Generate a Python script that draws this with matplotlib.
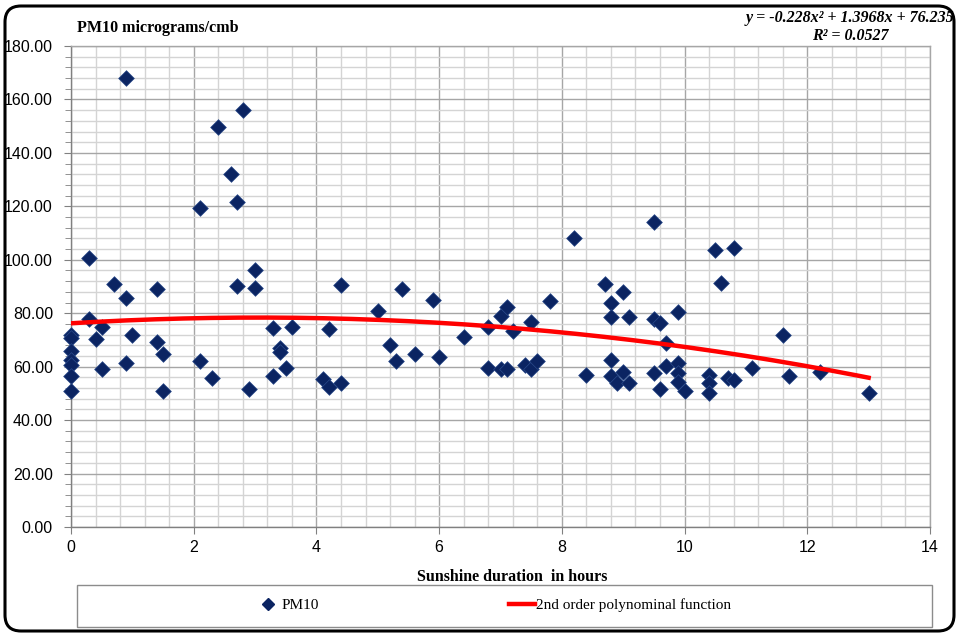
import numpy as np
import matplotlib
matplotlib.use("Agg")
import matplotlib.pyplot as plt
from matplotlib.patches import FancyBboxPatch, Rectangle
from matplotlib.lines import Line2D
from matplotlib.ticker import MultipleLocator, FormatStrFormatter

plt.rcParams['font.family'] = ['Liberation Serif', 'DejaVu Serif']

# Sonnenscheindauer (h) und PM10-Werte
sunshine = [0, 0, 0, 0, 0, 0, 0,
            0.3, 0.3, 0.4, 0.5, 0.5, 0.7, 0.9, 0.9, 0.9, 1.0, 1.4, 1.4, 1.5, 1.5,
            2.1, 2.1, 2.3, 2.4, 2.6, 2.7, 2.7, 2.8, 2.9, 3.0, 3.0,
            3.3, 3.3, 3.4, 3.4, 3.5, 3.6, 4.1, 4.2, 4.2, 4.4, 4.4,
            5.0, 5.2, 5.3, 5.4, 5.6, 5.9, 6.0, 6.4, 6.8, 6.8,
            7.0, 7.0, 7.1, 7.1, 7.2, 7.4, 7.5, 7.5, 7.6, 7.8,
            8.2, 8.4, 8.7, 8.8, 8.8, 8.8, 8.8, 8.9, 9.0, 9.0, 9.1, 9.1,
            9.5, 9.5, 9.5, 9.6, 9.6, 9.7, 9.7, 9.9, 9.9, 9.9, 9.9, 10.0,
            10.4, 10.4, 10.4, 10.5, 10.6, 10.7, 10.8, 10.8,
            11.1, 11.6, 11.7, 12.2, 13.0]
pm10 = [71.9, 70.6, 65.9, 62.5, 60.6, 56.5, 51.0,
        100.5, 77.7, 70.2, 74.7, 59.1, 91.0, 168.0, 85.8, 61.3, 72.0, 89.0, 69.4, 64.6, 51.0,
        119.5, 62.2, 55.6, 149.6, 132.0, 121.8, 90.3, 156.0, 51.6, 96.2, 89.3,
        74.4, 56.5, 67.1, 65.6, 59.6, 74.7, 55.4, 52.3, 74.0, 54.0, 90.5,
        81.0, 68.0, 62.0, 89.0, 64.6, 85.0, 63.5, 71.0, 75.0, 59.6,
        79.0, 59.0, 82.5, 59.0, 73.4, 60.6, 76.8, 59.0, 62.0, 84.6,
        108.0, 57.0, 91.0, 84.0, 78.5, 62.5, 56.5, 54.0, 87.8, 57.9, 78.5, 54.0,
        114.0, 78.0, 57.5, 76.5, 51.5, 69.0, 60.4, 80.3, 61.2, 57.5, 54.4, 51.0,
        57.0, 54.0, 50.3, 103.5, 91.2, 55.9, 104.3, 55.0,
        59.6, 72.0, 56.5, 57.9, 50.3]

# Trendlinie 2. Ordnung
koeff = [-0.228, 1.3968, 76.235]
r2 = 0.0527

fig = plt.figure(figsize=(9.58, 6.33), dpi=100)
ax = fig.add_axes([71/958, 1-527/633, 859/958, 481/633])

ax.set_xlim(0, 14)
ax.set_ylim(0, 180)
ax.xaxis.set_major_locator(MultipleLocator(2))
ax.xaxis.set_minor_locator(MultipleLocator(0.4))
ax.yaxis.set_major_locator(MultipleLocator(20))
ax.yaxis.set_minor_locator(MultipleLocator(4))
ax.yaxis.set_major_formatter(FormatStrFormatter('%.2f'))

ax.grid(which='major', color='#a6a6a6', linewidth=1.0)
ax.grid(which='minor', color='#d4d4d4', linewidth=1.0)
ax.set_axisbelow(True)
for s in ax.spines.values():
    s.set_color('#a6a6a6')
    s.set_linewidth(1.0)
ax.spines['left'].set_color('#808080')
ax.spines['bottom'].set_color('#808080')

# Achsenbeschriftung in Arial-Optik
ax.tick_params(which='both', direction='out', color='#808080')
ax.tick_params(which='major', length=5)
ax.tick_params(which='minor', length=4)
ax.tick_params(axis='x', which='minor', length=0)
ax.tick_params(axis='y', pad=8)
ax.tick_params(axis='x', pad=4)
for lab in ax.get_xticklabels() + ax.get_yticklabels():
    lab.set_family(['Liberation Sans', 'DejaVu Sans'])
    lab.set_fontsize(11.5)

ax.scatter(sunshine, pm10, marker='D', s=64, color='#0b2462', edgecolors='#2a4a8a',
           linewidths=0.5, zorder=3, clip_on=False)

xs = np.linspace(0, max(sunshine), 200)
ax.plot(xs, np.polyval(koeff, xs), color='#ff0000', linewidth=3.2, zorder=4)

ax.set_xlabel('Sunshine duration  in hours', fontsize=11.5, fontweight='bold')
ax.xaxis.set_label_coords((512-71)/859, (527-577)/481)
ax.xaxis.label.set_va('center')

fig.text(77/958, 1-28/633, 'PM10 micrograms/cmb', fontsize=11.5, fontweight='bold',
         ha='left', va='center')

gl = f"y = {koeff[0]}x² + {koeff[1]}x + {koeff[2]}\nR² = {r2}"
fig.text(850/958, 1-27/633, gl, fontsize=11.5, fontweight='bold', style='italic',
         ha='center', va='center', multialignment='center', linespacing=1.15)

# Legendenrahmen unten
fig.patches.append(Rectangle((77/958, 1-627/633), 855/958, 42/633,
                             transform=fig.transFigure, facecolor='white',
                             edgecolor='#8c8c8c', linewidth=1.0))
handles = [Line2D([], [], marker='D', linestyle='none', markersize=6,
                  color='#0b2462'),
           Line2D([], [], color='#ff0000', linewidth=3.2)]
fig.legend(handles, ['PM10', '2nd order polynominal function'], loc='center',
           bbox_to_anchor=(493/958, 1-605/633), ncol=2, frameon=False,
           fontsize=11, handlelength=1.7, handletextpad=0.1, columnspacing=12.4)

# abgerundeter Aussenrahmen
fig.patches.append(FancyBboxPatch((5, 2), 949, 625,
                                  boxstyle="round,pad=0,rounding_size=16",
                                  transform=None, facecolor='none',
                                  edgecolor='black', linewidth=2.2))

fig.savefig('out.png', dpi=100)
